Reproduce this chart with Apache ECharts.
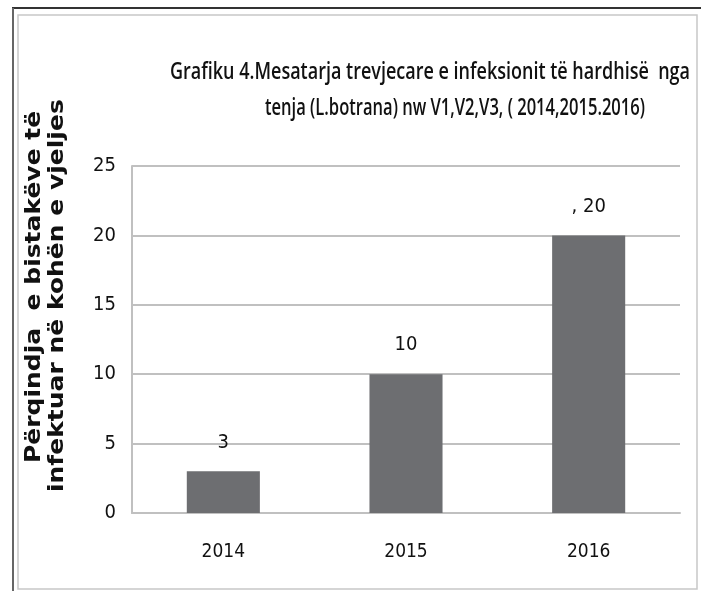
<!DOCTYPE html>
<html>
<head>
<meta charset="utf-8">
<script src="https://cdn.jsdelivr.net/npm/echarts@6/dist/echarts.min.js"></script>
<style>
  html, body { margin: 0; padding: 0; background: #fff; }
  #graphBar { width: 701px; height: 591px; }
</style>
</head>
<body>
<div id="graphBar"></div>
<script>
var years = ['2014', '2015', '2016'];
var infected = [3, 10, 20];
var barLabels = ['3', '10', ', 20'];
var titleLines = [
    'Grafiku 4.Mesatarja trevjecare e infeksionit të hardhisë  nga',
    'tenja (L.botrana) nw V1,V2,V3, ( 2014,2015.2016)'
];
var yTitleLines = ['Përqindja  e bistakëve të', 'infektuar në kohën e vjeljes'];

var narrow = '"DejaVu Sans Condensed", sans-serif';
var titleFont = '"Open Sans"';
var gridGray = '#c0c0c0';

// measure text so the squeezed title lines fit the widths seen in the picture
var ctx = document.createElement('canvas').getContext('2d');
function squeeze(text, font, target) {
    ctx.font = font;
    return target / ctx.measureText(text).width;
}

var dom = document.getElementById('graphBar');
var myChart = echarts.init(dom);

function titleText(text, cx, cy, width) {
    return {
        type: 'text', x: cx, y: cy,
        scaleX: squeeze(text, '600 23px ' + titleFont, width),
        style: { text: text, fontFamily: titleFont, fontWeight: 600, fontSize: 23, fill: '#111', align: 'center', verticalAlign: 'middle' }
    };
}
function yTitleText(text, x, y) {
    return {
        type: 'text', x: x, y: y, rotation: Math.PI / 2, scaleY: 0.82,
        style: { text: text, fontFamily: 'DejaVu Sans', fontWeight: 'bold', fontSize: 25, fill: '#111', align: 'left', verticalAlign: 'middle' }
    };
}

var option = {
    backgroundColor: '#fff',
    animation: false,
    grid: { left: 132, right: 21, top: 166, bottom: 78 },
    xAxis: {
        type: 'category',
        data: years,
        axisTick: { show: false },
        axisLine: { lineStyle: { color: gridGray, width: 2 } },
        axisLabel: { fontFamily: narrow, fontSize: 19, color: '#111', margin: 30 }
    },
    yAxis: {
        type: 'value',
        min: 0, max: 25, interval: 5,
        axisTick: { show: false },
        axisLine: { show: true, lineStyle: { color: gridGray, width: 2 } },
        splitLine: { lineStyle: { color: gridGray, width: 2 } },
        axisLabel: { fontFamily: narrow, fontSize: 20, color: '#111', margin: 16 }
    },
    series: [{
        type: 'bar',
        data: infected,
        barWidth: '40%',
        itemStyle: { color: '#6d6e71' },
        label: {
            show: true,
            position: 'top',
            distance: 19,
            fontFamily: narrow, fontSize: 20, color: '#111',
            formatter: function (p) { return barLabels[p.dataIndex]; }
        }
    }],
    graphic: [
        // outer frame lines
        { type: 'line', shape: { x1: 12, y1: 8, x2: 701, y2: 8 }, style: { stroke: '#333', lineWidth: 2 } },
        { type: 'line', shape: { x1: 13, y1: 8, x2: 13, y2: 591 }, style: { stroke: '#666', lineWidth: 2 } },
        { type: 'rect', shape: { x: 18, y: 15, width: 679, height: 574 }, style: { fill: 'none', stroke: '#c8c8c8', lineWidth: 1.5 } },
        // title, two lines
        titleText(titleLines[0], 430, 72, 520),
        titleText(titleLines[1], 455, 108, 380),
        // y axis title, two lines
        yTitleText(yTitleLines[0], 35, 463),
        yTitleText(yTitleLines[1], 58, 492)
    ]
};
myChart.setOption(option, true);
</script>
</body>
</html>
